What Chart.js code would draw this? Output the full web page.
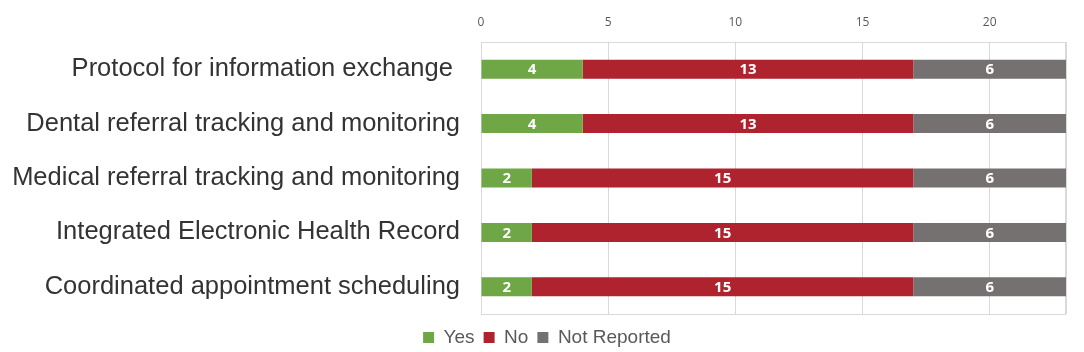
<!DOCTYPE html>
<html lang="en">
<head>
    <meta charset="UTF-8">
    <title>Care coordination features</title>
    <script src="https://cdn.jsdelivr.net/npm/chart.js"></script>
    <style>
        html, body {
            margin: 0;
            padding: 0;
            background: #ffffff;
        }

        #chartContainer {
            width: 1084px;
            height: 352px;
        }
    </style>
</head>
<body>
    <div id="chartContainer">
        <canvas id="myChart"></canvas>
    </div>
    <script>
        const categories = [
            'Protocol for information exchange ',
            'Dental referral tracking and monitoring',
            'Medical referral tracking and monitoring',
            'Integrated Electronic Health Record',
            'Coordinated appointment scheduling'
        ];
        const yesValues = [4, 4, 2, 2, 2];
        const noValues = [13, 13, 15, 15, 15];
        const notReportedValues = [6, 6, 6, 6, 6];
        const seriesNames = ['Yes', 'No', 'Not Reported'];
        const xTicks = [0, 5, 10, 15, 20];

        // white numbers in the middle of each segment
        const barLabels = {
            id: 'barLabels',
            afterDatasetsDraw(chart) {
                const ctx = chart.ctx;
                ctx.save();
                ctx.fillStyle = '#ffffff';
                ctx.font = 'bold 15px "Open Sans", Calibri, sans-serif';
                ctx.textAlign = 'center';
                ctx.textBaseline = 'middle';
                chart.data.datasets.forEach((ds, i) => {
                    chart.getDatasetMeta(i).data.forEach((bar, j) => {
                        const cx = (bar.x + bar.base) / 2;
                        ctx.fillText(ds.data[j], cx, bar.y + 1);
                    });
                });
                ctx.restore();
            }
        };

        // light frame round the plot area
        const plotFrame = {
            id: 'plotFrame',
            beforeDatasetsDraw(chart) {
                const a = chart.chartArea;
                const ctx = chart.ctx;
                ctx.save();
                ctx.strokeStyle = '#d9d9d9';
                ctx.lineWidth = 1;
                ctx.strokeRect(a.left + 0.5, a.top + 0.5, a.right - a.left - 1, a.bottom - a.top);
                ctx.restore();
            }
        };

        // nudge the legend lower and to the right, like the original
        const legendShift = {
            id: 'legendShift',
            afterLayout(chart) {
                if (chart.legend) {
                    chart.legend.top += 5;
                    chart.legend.bottom += 5;
                    chart.legend.left += 14;
                    chart.legend.right += 14;
                }
            }
        };

        const ctx = document.getElementById('myChart').getContext('2d');
        const myChart = new Chart(ctx, {
            type: 'bar',
            data: {
                labels: categories,
                datasets: [{
                    label: seriesNames[0],
                    data: yesValues,
                    backgroundColor: '#6fa746'
                }, {
                    label: seriesNames[1],
                    data: noValues,
                    backgroundColor: '#ae232d'
                }, {
                    label: seriesNames[2],
                    data: notReportedValues,
                    backgroundColor: '#767171'
                }]
            },
            options: {
                indexAxis: 'y',
                responsive: true,
                maintainAspectRatio: false,
                animation: false,
                layout: {
                    padding: { top: 0, right: 18, left: 0, bottom: 0 }
                },
                datasets: {
                    bar: {
                        categoryPercentage: 1.0,
                        barPercentage: 0.35,
                        borderWidth: 0
                    }
                },
                scales: {
                    x: {
                        stacked: true,
                        position: 'top',
                        min: 0,
                        max: 23,
                        afterBuildTicks: (axis) => {
                            axis.ticks = xTicks.concat([23]).map(v => ({ value: v }));
                        },
                        afterFit: (axis) => {
                            axis.height = 42;
                            axis.paddingLeft = 0;
                            axis.paddingRight = 0;
                        },
                        ticks: {
                            color: '#595959',
                            font: { size: 12, family: '"Open Sans", Calibri, sans-serif' },
                            padding: 12,
                            callback: (v) => xTicks.includes(v) ? v : ''
                        },
                        grid: {
                            color: '#d9d9d9',
                            drawTicks: false
                        },
                        border: { display: false }
                    },
                    y: {
                        stacked: true,
                        afterFit: (axis) => {
                            axis.width = 481;
                        },
                        ticks: {
                            color: '#333333',
                            font: { size: 25.5, family: 'Liberation Sans, Arial, sans-serif' },
                            padding: 13
                        },
                        grid: { display: false },
                        border: { display: false }
                    }
                },
                plugins: {
                    legend: {
                        position: 'bottom',
                        labels: {
                            boxWidth: 11,
                            boxHeight: 11,
                            padding: 9,
                            color: '#595959',
                            font: { size: 19, family: 'Liberation Sans, Arial, sans-serif' }
                        }
                    },
                    tooltip: { enabled: false }
                }
            },
            plugins: [barLabels, plotFrame, legendShift]
        });
    </script>
</body>
</html>
